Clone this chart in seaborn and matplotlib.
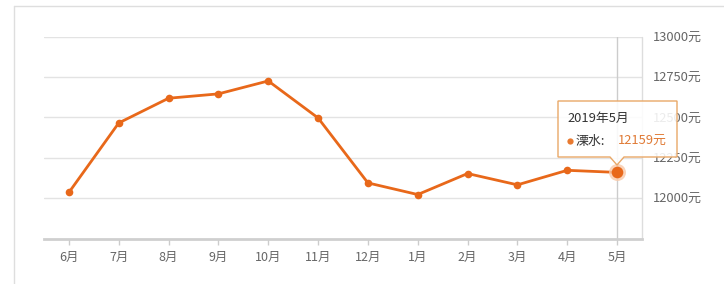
import matplotlib
matplotlib.use("Agg")
import matplotlib.pyplot as plt
import seaborn as sns
import pandas as pd
from matplotlib.lines import Line2D
from matplotlib.patches import Polygon

months = ["6月", "7月", "8月", "9月", "10月", "11月", "12月", "1月", "2月", "3月", "4月", "5月"]
prices = [12035, 12465, 12618, 12645, 12725, 12496, 12094, 12022, 12152, 12082, 12172, 12159]
yticks = [12000, 12250, 12500, 12750, 13000]
ytick_labels = ["12000元", "12250元", "12500元", "12750元", "13000元"]
tooltip_title = "2019年5月"
series_name = "溧水"

sns.set_theme(style="white")
plt.rcParams["font.family"] = ["Noto Sans CJK SC", "DejaVu Sans"]

W, H = 724, 284
fig = plt.figure(figsize=(W / 100, H / 100), dpi=100)
fig.patch.set_facecolor("white")

def fx(px):
    return px / W

def fy(py):
    return 1 - py / H

ax = fig.add_axes([fx(44), fy(238.5), fx(642) - fx(44), fy(36.5) - fy(238.5)])
df = pd.DataFrame({"idx": range(len(months)), "price": prices})

orange = "#E8681A"
sns.lineplot(data=df, x="idx", y="price", ax=ax, color=orange, linewidth=2.0,
             marker="o", markersize=5.5, markeredgewidth=0, zorder=5)

# highlight last point
last = df.iloc[[-1]]
ax.scatter(last["idx"], last["price"], s=150, color="#F9C9A8", alpha=0.8, zorder=6, linewidths=0)
ax.scatter(last["idx"], last["price"], s=70, color=orange, zorder=7, linewidths=0)

ax.set_xlim(-0.5, len(months) - 0.5)
ax.set_ylim(11750, 13000)
ax.set_xticks(range(len(months)))
ax.set_xticklabels(months)
ax.set_yticks(yticks)
ax.set_yticklabels(ytick_labels)
ax.yaxis.tick_right()
ax.set_xlabel("")
ax.set_ylabel("")

for v in yticks:
    ax.axhline(v, color="#e3e3e3", linewidth=1.0, zorder=1)

# crosshair at last point & right border
ax.axvline(len(months) - 1, color="#cccccc", linewidth=1.0, zorder=2)
ax.axvline(len(months) - 0.5, color="#dddddd", linewidth=1.0, zorder=2, clip_on=False)

for s in ["top", "left", "right"]:
    ax.spines[s].set_visible(False)
ax.spines["bottom"].set_color("#cfcfcf")
ax.spines["bottom"].set_linewidth(2.0)

ax.tick_params(axis="x", labelcolor="#666666", labelsize=9, length=4, width=1,
               direction="out", pad=5, bottom=True, color="#cccccc")
ax.tick_params(axis="y", labelcolor="#666666", labelsize=9.3, length=0, pad=7.5, right=False)
ax.grid(False)
ax.set_facecolor("white")

# outer card frame
fig.add_artist(Line2D([fx(14), fx(724)], [fy(6), fy(6)], color="#dedede", linewidth=1.0))
fig.add_artist(Line2D([fx(14), fx(14)], [fy(6), fy(284)], color="#dedede", linewidth=1.0))

# tooltip
tx = 617
poly = [(558, 101), (677, 101), (677, 157), (tx + 7, 157), (tx, 165), (tx - 7, 157), (558, 157)]
fig.add_artist(Polygon([(fx(x), fy(y)) for x, y in poly], closed=True,
                       facecolor=(1, 1, 1, 0.88), edgecolor="#E9A868", linewidth=1.0, zorder=10))
fig.text(fx(567), fy(118), tooltip_title, fontsize=9.3, color="#333333", ha="left", va="center", zorder=11)
fig.add_artist(Line2D([fx(570)], [fy(141.5)], marker="o", markersize=4.5, color="#E87A30",
                      markeredgewidth=0, linestyle="none", zorder=11))
fig.text(fx(576), fy(141), series_name + ":", fontsize=9.3, color="#333333", ha="left", va="center", zorder=11)
fig.text(fx(618), fy(141), f"{prices[-1]}元", fontsize=9.3, color="#E07A35", ha="left", va="center", zorder=11)

fig.savefig("out.png", dpi=100)
